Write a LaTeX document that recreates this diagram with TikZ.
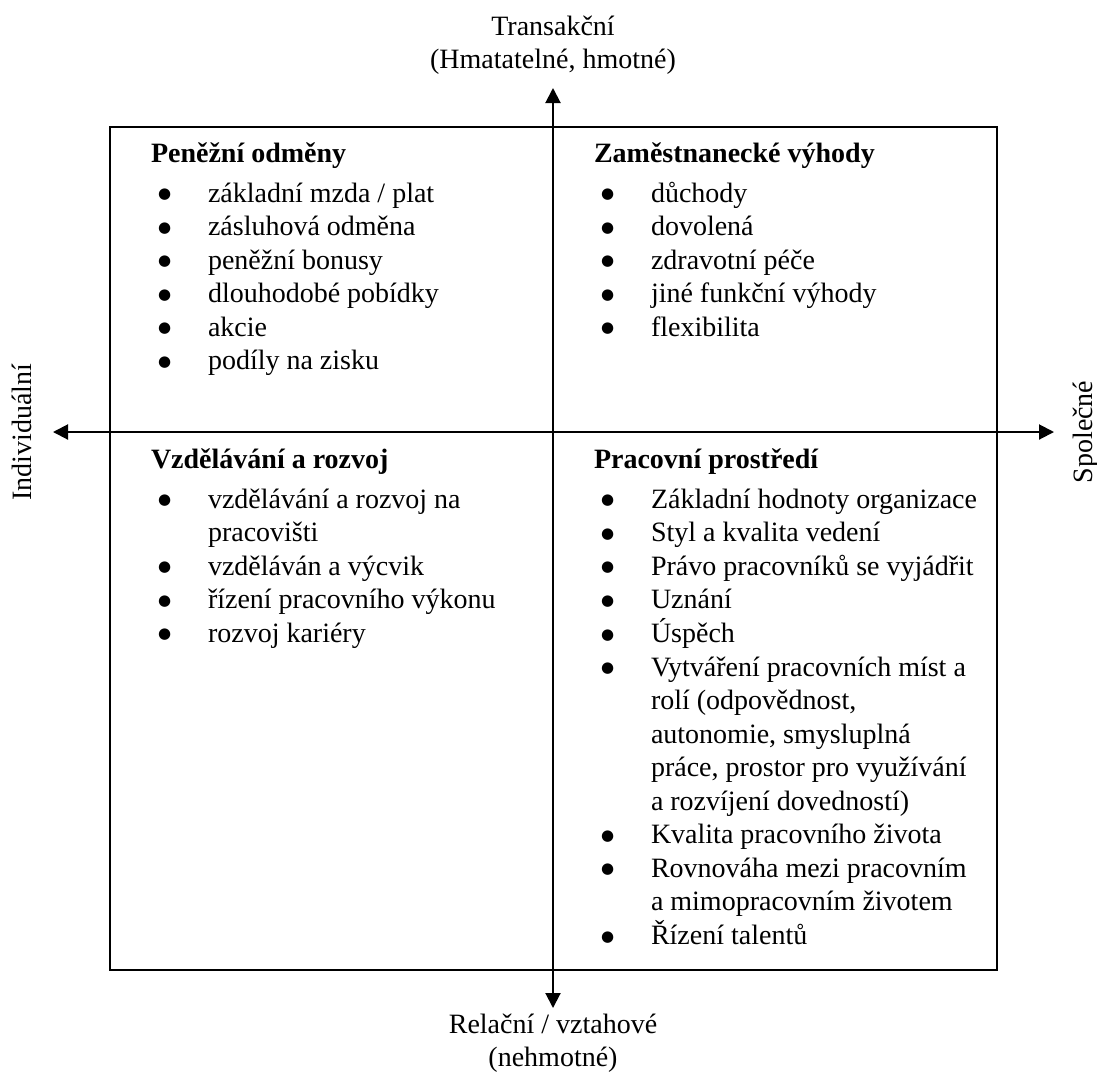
\documentclass[tikz,border=0pt]{standalone}
\usepackage{fontspec}
\setmainfont{Liberation Serif}
\newfontfamily\symfont{DejaVu Sans}
\usepackage{tikz}
\usetikzlibrary{arrows.meta}
\newcommand{\qfont}{\fontsize{14pt}{16.75pt}\selectfont}
\newcommand{\bul}{{\symfont\fontsize{7.5pt}{7.5pt}\selectfont\raisebox{1.7pt}{●}}}
\newenvironment{qlist}[1]{\begin{tabular}[t]{@{\hspace{3.5pt}}p{25pt}@{}l@{}}
  \multicolumn{2}{@{}l@{}}{\textbf{#1}}\\[3.25pt]}{\end{tabular}}

\begin{document}
\begin{tikzpicture}[x=0.5pt,y=-0.5pt
  ,>={Triangle[length=7.5pt,width=7.5pt]}
  ,line width=1pt]
  \tikzstyle{every node}=[inner sep=0pt,font=\qfont]
  \tikzstyle{quad}=[anchor=base west,align=left]
  \useasboundingbox (0,0) rectangle (1097,1072);

  % frame
  \draw (110,127) rectangle (997,970);

  % axes
  \coordinate (top) at (553,88);
  \coordinate (bot) at (553,1008);
  \coordinate (lft) at (53,432);
  \coordinate (rgt) at (1054,432);
  \draw[<->] (bot) -- (top);
  \draw[<->] (lft) -- (rgt);

  % axis labels
  \node[anchor=base] (trans) at (553,35)
    {\begin{tabular}[t]{@{}c@{}}Transakční\\(Hmatatelné, hmotné)\end{tabular}};
  \node[anchor=base] (rel) at (553,1033)
    {\begin{tabular}[t]{@{}c@{}}Relační / vztahové\\(nehmotné)\end{tabular}};
  \node[rotate=90] (indiv) at (22,432) {Individuální};
  \node[rotate=90] (spol) at (1086,432) {Společné};

  % quadrants
  \node[quad] (money) at (150,162) {\begin{qlist}{Peněžní odměny}
    \bul & základní mzda / plat\\
    \bul & zásluhová odměna\\
    \bul & peněžní bonusy\\
    \bul & dlouhodobé pobídky\\
    \bul & akcie\\
    \bul & podíly na zisku
  \end{qlist}};
  \node[quad] (benef) at (593,162) {\begin{qlist}{Zaměstnanecké výhody}
    \bul & důchody\\
    \bul & dovolená\\
    \bul & zdravotní péče\\
    \bul & jiné funkční výhody\\
    \bul & flexibilita
  \end{qlist}};
  \node[quad] (learn) at (150,468) {\begin{qlist}{Vzdělávání a rozvoj}
    \bul & vzdělávání a rozvoj na\\
         & pracovišti\\
    \bul & vzděláván a výcvik\\
    \bul & řízení pracovního výkonu\\
    \bul & rozvoj kariéry
  \end{qlist}};
  \node[quad] (env) at (593,468) {\begin{qlist}{Pracovní prostředí}
    \bul & Základní hodnoty organizace\\
    \bul & Styl a kvalita vedení\\
    \bul & Právo pracovníků se vyjádřit\\
    \bul & Uznání\\
    \bul & Úspěch\\
    \bul & Vytváření pracovních míst a\\
         & rolí (odpovědnost,\\
         & autonomie, smysluplná\\
         & práce, prostor pro využívání\\
         & a rozvíjení dovedností)\\
    \bul & Kvalita pracovního života\\
    \bul & Rovnováha mezi pracovním\\
         & a mimopracovním životem\\
    \bul & Řízení talentů
  \end{qlist}};
\end{tikzpicture}
\end{document}
